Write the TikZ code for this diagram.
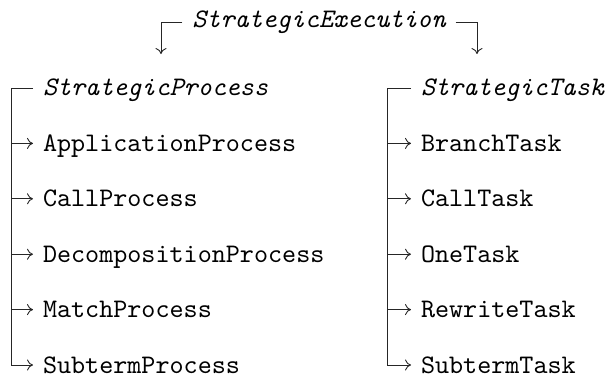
\documentclass[tikz,border=0pt]{standalone}
\usepackage{fontspec}
\setmonofont{lmmono10-regular.otf}[ItalicFont=lmmono10-italic.otf]
\usetikzlibrary{arrows.meta}
\begin{document}
\begin{tikzpicture}[x=1pt,y=-1pt,
  conn/.style={line width=0.9pt, draw=black!85},
  arr/.style={conn, -{To[length=6pt,width=11pt]}},
  item/.style={anchor=base west, inner xsep=9.8pt, inner ysep=0pt,
    font=\fontsize{26.8}{30}\selectfont\ttfamily},
  abstr/.style={item, font=\fontsize{26.8}{30}\selectfont\ttfamily\itshape}]
\useasboundingbox (0,0) rectangle (607,378);
% top
\node[abstr, anchor=base] (exec) at (319,27) {StrategicExecution};
\coordinate (tl) at (161,54);
\coordinate (tr) at (477,54);
\draw[arr] ([yshift=5pt]exec.base west) -| (tl);
\draw[arr] ([yshift=5pt]exec.base east) -| (tr);
% left column
\coordinate (lc) at (11,88);
\node[abstr] (sp) at (33,95) {StrategicProcess};
\node[item] (ap) at (33,151.4) {ApplicationProcess};
\node[item] (cp) at (33,206.8) {CallProcess};
\node[item] (dp) at (33,262.2) {DecompositionProcess};
\node[item] (mp) at (33,317.6) {MatchProcess};
\node[item] (stp) at (33,373) {SubtermProcess};
\draw[conn] ([yshift=7pt]sp.base west) -- (lc);
\coordinate (stp-in) at ([yshift=8pt]stp.base west);
\draw[arr] (lc) |- (stp-in);
\foreach \n in {ap,cp,dp,mp}{
  \coordinate (\n-in) at ([yshift=8pt]\n.base west);
  \draw[arr] (lc |- \n-in) -- (\n-in);
}
% right column
\coordinate (rc) at (387,88);
\node[abstr] (st) at (411,95) {StrategicTask};
\node[item] (bt) at (411,151.4) {BranchTask};
\node[item] (ct) at (411,206.8) {CallTask};
\node[item] (ot) at (411,262.2) {OneTask};
\node[item] (rt) at (411,317.6) {RewriteTask};
\node[item] (sbt) at (411,373) {SubtermTask};
\draw[conn] ([yshift=7pt]st.base west) -- (rc);
\coordinate (sbt-in) at ([yshift=8pt]sbt.base west);
\draw[arr] (rc) |- (sbt-in);
\foreach \n in {bt,ct,ot,rt}{
  \coordinate (\n-in) at ([yshift=8pt]\n.base west);
  \draw[arr] (rc |- \n-in) -- (\n-in);
}
\end{tikzpicture}
\end{document}
